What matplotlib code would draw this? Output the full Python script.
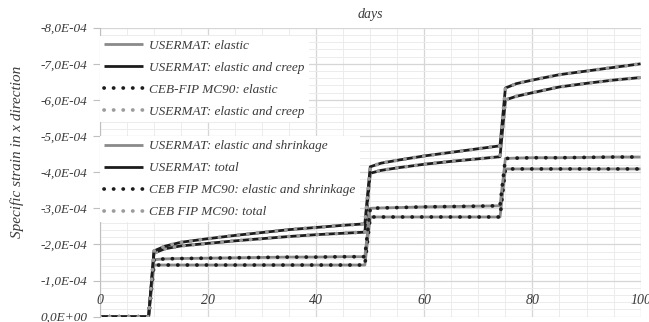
"""Specific strain in x direction vs days: USERMAT against CEB-FIP MC90."""
import matplotlib
matplotlib.use("Agg")
import matplotlib.pyplot as plt
from matplotlib.ticker import MultipleLocator

plt.rcParams["font.family"] = ["Liberation Serif", "DejaVu Serif"]

# ── data (strain values in units of 1e-4) ────────────────────────────────────
days = [0, 9, 10, 12, 15, 20, 25, 30, 35, 40, 45, 49,
        50, 52, 55, 60, 65, 70, 74,
        75, 77, 80, 85, 90, 95, 100]

elastic = [0, 0, 1.43, 1.43, 1.43, 1.43, 1.43, 1.43, 1.43, 1.43, 1.43, 1.43,
           2.76, 2.76, 2.76, 2.76, 2.76, 2.76, 2.76,
           4.09, 4.09, 4.09, 4.09, 4.09, 4.09, 4.09]
elastic_shrink = [0, 0, 1.58, 1.60, 1.61, 1.62, 1.63, 1.64, 1.65, 1.65, 1.66, 1.66,
                  3.00, 3.01, 3.02, 3.04, 3.05, 3.06, 3.07,
                  4.38, 4.39, 4.40, 4.40, 4.41, 4.42, 4.42]
elastic_creep = [0, 0, 1.76, 1.88, 1.96, 2.03, 2.10, 2.16, 2.22, 2.27, 2.31, 2.34,
                 3.97, 4.05, 4.12, 4.22, 4.30, 4.37, 4.43,
                 6.00, 6.10, 6.20, 6.36, 6.46, 6.55, 6.62]
total = [0, 0, 1.82, 1.95, 2.06, 2.16, 2.25, 2.33, 2.41, 2.47, 2.53, 2.57,
         4.15, 4.25, 4.33, 4.45, 4.55, 4.65, 4.73,
         6.33, 6.45, 6.55, 6.70, 6.80, 6.90, 7.00]

labels_a = ["USERMAT: elastic", "USERMAT: elastic and creep",
            "CEB-FIP MC90: elastic", "USERMAT: elastic and creep"]
labels_b = ["USERMAT: elastic and shrinkage", "USERMAT: total",
            "CEB FIP MC90: elastic and shrinkage", "CEB FIP MC90: total"]

y_ticks = [0, 1, 2, 3, 4, 5, 6, 7, 8]
y_ticklabels = ["0,0E+00", "-1,0E-04", "-2,0E-04", "-3,0E-04", "-4,0E-04",
                "-5,0E-04", "-6,0E-04", "-7,0E-04", "-8,0E-04"]
x_ticks = [0, 20, 40, 60, 80, 100]

GRAY = "#8a8a8a"
DOTGRAY = "#9c9c9c"
BLACK = "#1c1c1c"
TXT = "#3a3a3a"

scale = 1e-4
def s(v):
    return [x * scale for x in v]

fig = plt.figure(figsize=(6.49, 3.22), dpi=100)
ax = fig.add_axes([0.154, 0.0165, 0.833, 0.8975])

solid = dict(lw=2.0, solid_capstyle="butt")
dotted = dict(lw=2.7, linestyle=(0, (0.05, 2.5)), dash_capstyle="round")

h1, = ax.plot(days, s(elastic), color=GRAY, **solid)
h2, = ax.plot(days, s(elastic_creep), color=BLACK, **solid)
h3, = ax.plot(days, s(elastic), color=BLACK, **dotted)
h4, = ax.plot(days, s(elastic_creep), color=DOTGRAY, **dotted)
h5, = ax.plot(days, s(elastic_shrink), color=GRAY, **solid)
h6, = ax.plot(days, s(total), color=BLACK, **solid)
h7, = ax.plot(days, s(elastic_shrink), color=BLACK, **dotted)
h8, = ax.plot(days, s(total), color=DOTGRAY, **dotted)

ax.set_xlim(0, 100)
ax.set_ylim(0, 8 * scale)
ax.xaxis.set_major_locator(MultipleLocator(20))
ax.xaxis.set_minor_locator(MultipleLocator(5))
ax.set_yticks([v * scale for v in y_ticks])
ax.set_yticklabels(y_ticklabels)
ax.yaxis.set_minor_locator(MultipleLocator(0.2 * scale))
ax.set_xticklabels([])
ax.tick_params(axis="x", which="both", length=0)
ax.tick_params(axis="y", which="major", length=5, color="#bfbfbf",
               labelsize=9.5, labelcolor=TXT, pad=4)
ax.tick_params(axis="y", which="minor", length=0)
for lab in ax.get_yticklabels():
    lab.set_fontstyle("italic")

ax.grid(which="major", color="#d6d6d6", lw=0.9)
ax.grid(which="minor", color="#ececec", lw=0.7)
ax.set_axisbelow(True)
for side in ["top", "right", "bottom"]:
    ax.spines[side].set_visible(False)
ax.spines["left"].set_color("#bfbfbf")

for xt in x_ticks:
    ax.text(xt, 0.45 * scale, str(xt), ha="center", va="center",
            fontsize=10, style="italic", color=TXT, clip_on=False)

fig.text(0.57, 0.955, "days", ha="center", va="center", fontsize=10,
         style="italic", color=TXT)
fig.text(0.027, 0.528, "Specific strain in x direction", rotation=90,
         ha="center", va="center", fontsize=11, style="italic", color=TXT)

leg_kw = dict(frameon=True, framealpha=1, facecolor="white", edgecolor="none",
              fancybox=False, prop={"style": "italic", "size": 9.5},
              labelcolor=TXT, handlelength=3.0, handletextpad=0.45,
              labelspacing=0.74, borderpad=0.3, borderaxespad=0)
leg1 = ax.legend([h1, h2, h3, h4], labels_a, loc="upper left",
                 bbox_to_anchor=(0.0, 0.972), **leg_kw)
ax.add_artist(leg1)
ax.legend([h5, h6, h7, h8], labels_b, loc="upper left",
          bbox_to_anchor=(0.0, 0.625), **leg_kw)

fig.savefig("out.png", dpi=100)
